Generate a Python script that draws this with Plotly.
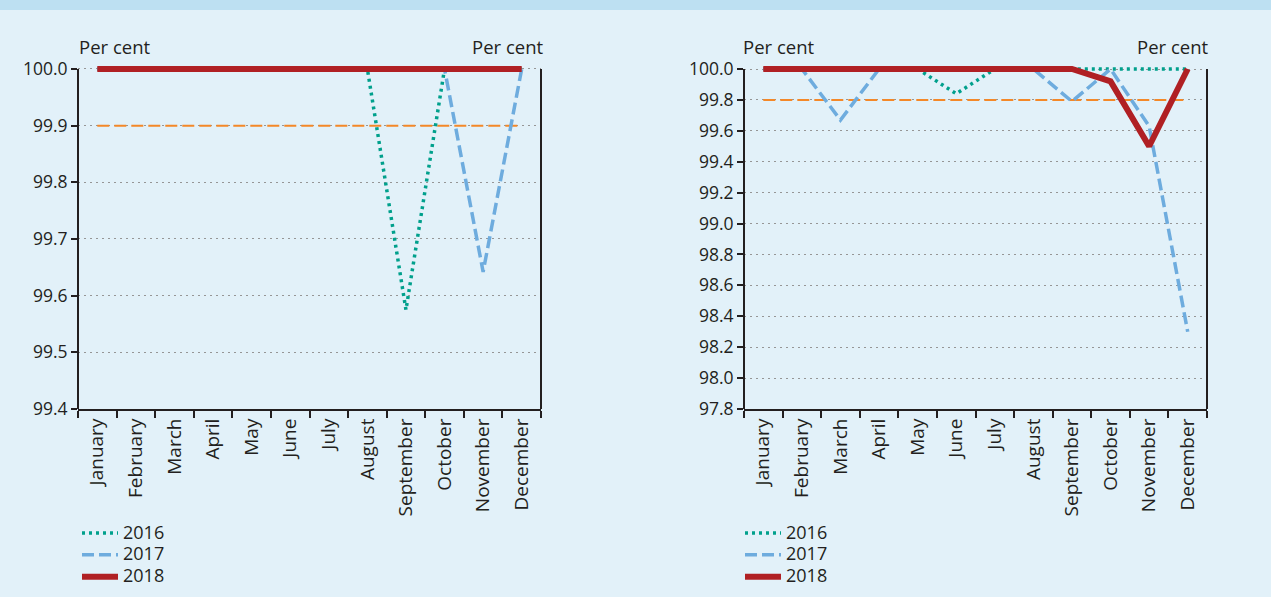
import plotly.graph_objects as go

W, H = 1271, 597

months = ["January", "February", "March", "April", "May", "June", "July",
          "August", "September", "October", "November", "December"]

# Left panel
left_2016 = [100, 100, 100, 100, 100, 100, 100, 100, 99.575, 100, 100, 100]
left_2017 = [100, 100, 100, 100, 100, 100, 100, 100, 100, 100, 99.642, 100]
left_2018 = [100, 100, 100, 100, 100, 100, 100, 100, 100, 100, 100, 100]
left_target = [99.9] * 12
left_ticks = [99.4, 99.5, 99.6, 99.7, 99.8, 99.9, 100.0]

# Right panel
right_2016 = [100, 100, 100, 100, 100, 99.84, 100, 100, 100, 100, 100, 100]
right_2017 = [100, 100, 99.67, 100, 100, 100, 100, 100, 99.79, 100, 99.63, 98.30]
right_2018 = [100, 100, 100, 100, 100, 100, 100, 100, 100, 99.92, 99.50, 100]
right_target = [99.8] * 12
right_ticks = [97.8, 98.0, 98.2, 98.4, 98.6, 98.8, 99.0, 99.2, 99.4, 99.6, 99.8, 100.0]

years = ["2016", "2017", "2018"]

FONT = "Open Sans"
TXT = "#231f20"
BG = "rgb(226,241,249)"
BAND = "rgb(189,224,242)"
C16 = "rgb(0,160,140)"
C17 = "rgb(110,172,222)"
C18 = "rgb(176,32,36)"
CT = "rgb(244,136,40)"
GRID = "rgb(150,150,150)"

fig = go.Figure()


def legend_name(y):
    return '<span style="font-size:18px">' + y + "</span>"


def add_panel(xa, ya, d16, d17, d18, tgt, legend):
    fig.add_trace(go.Scatter(x=months, y=tgt, mode="lines", xaxis=xa, yaxis=ya,
                             line=dict(color=CT, width=2, dash="12px,5px"),
                             showlegend=False, hoverinfo="skip"))
    fig.add_trace(go.Scatter(x=months, y=d16, mode="lines", name=legend_name(years[0]),
                             xaxis=xa, yaxis=ya,
                             line=dict(color=C16, width=3.5, dash="3px,4px"),
                             legend=legend))
    fig.add_trace(go.Scatter(x=months, y=d17, mode="lines", name=legend_name(years[1]),
                             xaxis=xa, yaxis=ya,
                             line=dict(color=C17, width=3.5, dash="12px,5px"),
                             legend=legend))
    fig.add_trace(go.Scatter(x=months, y=d18, mode="lines", name=legend_name(years[2]),
                             xaxis=xa, yaxis=ya,
                             line=dict(color=C18, width=6),
                             legend=legend))


add_panel("x", "y", left_2016, left_2017, left_2018, left_target, "legend")
add_panel("x2", "y3", right_2016, right_2017, right_2018, right_target, "legend2")

# plot area geometry (pixels): value 100.0 at top_px, lowest tick at bot_px
top_px, bot_px = 69, 409


def yrange_and_domain(lo, hi, pad):
    ppu = (bot_px - top_px) / (hi - lo)
    top = top_px - pad * ppu
    return [lo, hi + pad], [(H - bot_px) / H, (H - top) / H]


r1, d1 = yrange_and_domain(left_ticks[0], left_ticks[-1], 0.008)
r2, d2 = yrange_and_domain(right_ticks[0], right_ticks[-1], 0.03)

xdom1 = [78 / W, 541 / W]
xdom2 = [744 / W, 1207 / W]

xcommon = dict(type="category", categoryorder="array", categoryarray=months,
               range=[-0.5, 11.5], showline=True, linecolor=TXT, linewidth=2,
               ticks="outside", tickson="boundaries", ticklen=7, tickwidth=2,
               tickcolor=TXT, showgrid=False, zeroline=False, tickangle=-90,
               tickfont=dict(family=FONT, size=19, color=TXT), fixedrange=True,
               automargin=False)

ycommon = dict(showline=False, ticks="outside",
               ticklen=6, tickwidth=2, tickcolor=TXT, zeroline=False,
               tickformat=".1f", tickfont=dict(family=FONT, size=17.5, color=TXT),
               fixedrange=True, automargin=False)

leg = dict(xanchor="left", yanchor="top", bgcolor="rgba(0,0,0,0)",
           font=dict(family=FONT, size=14.5, color=TXT), tracegroupgap=0, itemwidth=36)

shapes = [dict(type="rect", xref="paper", yref="paper", x0=0, x1=1,
               y0=(H - 10) / H, y1=1, fillcolor=BAND, line=dict(width=0), layer="below")]
# vertical axis lines, from lowest to highest tick
for xr, yr, lo, hi in [("x domain", "y", left_ticks[0], left_ticks[-1]),
                       ("x2 domain", "y3", right_ticks[0], right_ticks[-1])]:
    for xv in (0, 1):
        shapes.append(dict(type="line", xref=xr, yref=yr, x0=xv, x1=xv, y0=lo, y1=hi,
                           line=dict(color=TXT, width=2), layer="above"))

fig.update_layout(
    width=W, height=H,
    margin=dict(l=0, r=0, t=0, b=0, pad=0, autoexpand=False),
    paper_bgcolor=BG, plot_bgcolor=BG,
    font=dict(family=FONT, size=16, color=TXT),
    xaxis=dict(domain=xdom1, anchor="y", **xcommon),
    yaxis=dict(domain=d1, anchor="x", range=r1, tickvals=left_ticks,
               showgrid=True, gridcolor=GRID, gridwidth=1, griddash="2px,4px", **ycommon),
    yaxis2=dict(domain=d1, anchor="x", overlaying="y", side="right",
                range=r1, tickvals=left_ticks, showgrid=False, **ycommon),
    xaxis2=dict(domain=xdom2, anchor="y3", **xcommon),
    yaxis3=dict(domain=d2, anchor="x2", range=r2, tickvals=right_ticks,
                showgrid=True, gridcolor=GRID, gridwidth=1, griddash="2px,4px", **ycommon),
    yaxis4=dict(domain=d2, anchor="x2", overlaying="y3", side="right",
                range=r2, tickvals=right_ticks, showgrid=False, **ycommon),
    legend=dict(x=77 / W, y=(H - 517) / H, **leg),
    legend2=dict(x=740 / W, y=(H - 517) / H, **leg),
    showlegend=True,
    shapes=shapes,
    annotations=[
        dict(text="Per cent", xref="paper", yref="paper", x=77 / W, y=(H - 46) / H,
             xanchor="left", yanchor="middle", showarrow=False, font=dict(size=18.5)),
        dict(text="Per cent", xref="paper", yref="paper", x=545 / W, y=(H - 46) / H,
             xanchor="right", yanchor="middle", showarrow=False, font=dict(size=18.5)),
        dict(text="Per cent", xref="paper", yref="paper", x=741 / W, y=(H - 46) / H,
             xanchor="left", yanchor="middle", showarrow=False, font=dict(size=18.5)),
        dict(text="Per cent", xref="paper", yref="paper", x=1210 / W, y=(H - 46) / H,
             xanchor="right", yanchor="middle", showarrow=False, font=dict(size=18.5)),
    ],
)

post = (
    "var s=document.createElement('style');"
    "s.innerHTML='html,body{margin:0!important;padding:0!important;overflow:hidden;}';"
    "document.head.appendChild(s);"
)

fig.write_html("out.html", post_script=post, config={"displayModeBar": False})
